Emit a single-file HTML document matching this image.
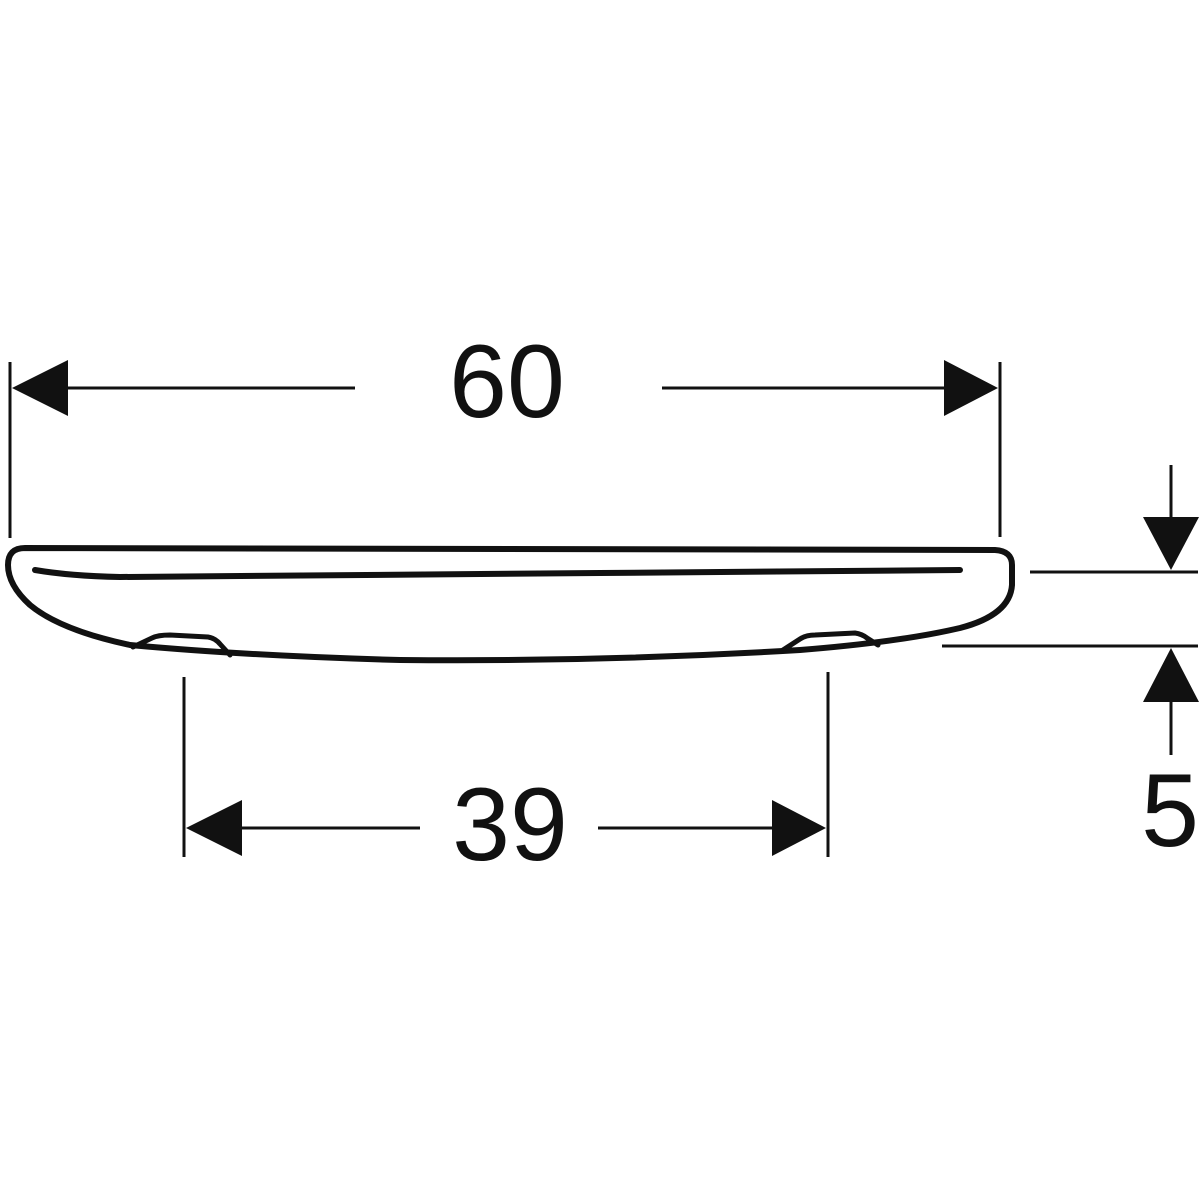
<!DOCTYPE html>
<html><head><style>html,body{margin:0;padding:0;background:#fff}svg{display:block}</style></head>
<body>
<svg width="1200" height="1200" viewBox="0 0 1200 1200" xmlns="http://www.w3.org/2000/svg">
<rect width="1200" height="1200" fill="#fff"/>
<g stroke="#111" fill="none" stroke-linecap="round" stroke-linejoin="round">
  <path d="M25,548 L995,550 Q1012,551 1012,565 L1012,585 Q1010,615 960,628 Q900,642 800,650 Q600,662 400,660 Q250,656 130,645 Q60,630 30,605 Q8,585 8,565 Q8,548 25,548 Z" stroke-width="6"/>
  <path d="M35,570 Q70,576 120,577 L600,573 L960,570" stroke-width="6"/>
  <path d="M133,647 L152,638 Q158,635 170,635 L208,637 Q215,638 220,644 L230,655" stroke-width="5"/>
  <path d="M783,650 L800,639 Q806,635 815,635 L855,633 Q862,634 867,638 L878,645" stroke-width="5"/>
</g>
<g stroke="#111" stroke-width="3" fill="none">
  <line x1="10" y1="362" x2="10" y2="538"/>
  <line x1="1000" y1="362" x2="1000" y2="537"/>
  <line x1="68" y1="388" x2="355" y2="388"/>
  <line x1="662" y1="388" x2="945" y2="388"/>
  <line x1="184" y1="677" x2="184" y2="857"/>
  <line x1="828" y1="672" x2="828" y2="857"/>
  <line x1="242" y1="828" x2="420" y2="828"/>
  <line x1="598" y1="828" x2="772" y2="828"/>
  <line x1="1030" y1="572" x2="1198" y2="572"/>
  <line x1="942" y1="646" x2="1198" y2="646"/>
  <line x1="1171" y1="465" x2="1171" y2="520"/>
  <line x1="1171" y1="700" x2="1171" y2="755"/>
</g>
<g fill="#111">
  <polygon points="12,388 68,360 68,416"/>
  <polygon points="998,388 944,360 944,416"/>
  <polygon points="186,828 242,800 242,856"/>
  <polygon points="826,828 772,800 772,856"/>
  <polygon points="1171,570 1143,517 1199,517"/>
  <polygon points="1171,648 1143,702 1199,702"/>
</g>
<g font-family="Liberation Sans, sans-serif" font-size="104" fill="#111" text-anchor="middle">
  <text x="507" y="417">60</text>
  <text x="510" y="860">39</text>
  <text x="1170" y="846">5</text>
</g>
</svg>
</body></html>
